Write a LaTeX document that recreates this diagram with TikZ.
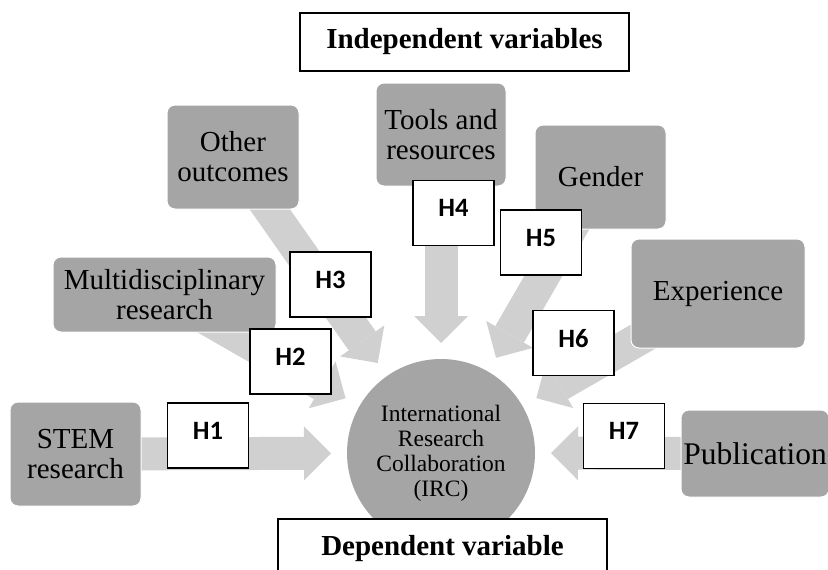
\documentclass[tikz,border=0pt]{standalone}
\usepackage{fontspec}
\setmainfont{Liberation Serif}
\newfontfamily\hfont{Carlito}
\usetikzlibrary{arrows.meta,backgrounds}
\definecolor{boxgray}{HTML}{A5A5A5}
\definecolor{arrgray}{HTML}{D0D0D0}
\begin{document}
\begin{tikzpicture}[x=1pt,y=-1pt,
  varbox/.style={rectangle, rounded corners=8pt, fill=boxgray, draw=white, line width=1pt,
    align=center, inner sep=2pt, font=\fontsize{29}{30}\selectfont},
  hbox/.style={rectangle, draw=black, line width=1.8pt, fill=white,
    minimum width=81pt, minimum height=65pt, inner sep=0pt, text depth=10pt,
    font=\hfont\bfseries\fontsize{26.5}{30}\selectfont},
  titlebox/.style={rectangle, draw=black, line width=1.5pt, fill=white, inner sep=0pt,
    font=\bfseries\fontsize{29}{32}\selectfont},
  flow/.style={arrgray, line width=33pt,
    -{Triangle[width=54pt,length=27pt,line width=0pt]}}]
\useasboundingbox (0,0) rectangle (828,570);
\clip (0,0) rectangle (828,570);

% central circle
\node[circle, fill=boxgray, minimum size=188pt, inner sep=0pt, outer sep=16pt,
  align=center, font=\fontsize{23.5}{25}\selectfont] (irc) at (441,453)
  {International\\Research\\Collaboration\\(IRC)};

% independent variables
\node[varbox, minimum width=131pt, minimum height=104pt] (stem)   at (75.5,454)  {STEM\\research};
\node[varbox, minimum width=223pt, minimum height=75pt]  (multi)  at (164.5,294.5) {Multidisciplinary\\research};
\node[varbox, minimum width=132pt, minimum height=104pt] (other)  at (233,157)   {Other\\outcomes};
\node[varbox, minimum width=130pt, minimum height=103pt] (tools)  at (441,134.5) {Tools and\\resources};
\node[varbox, minimum width=131pt, minimum height=104pt] (gender) at (600.5,177) {Gender};
\node[varbox, minimum width=174pt, minimum height=109pt] (exper)  at (718,293.5) {Experience};
\node[varbox, minimum width=148pt, minimum height=87pt, font=\fontsize{31.5}{32}\selectfont]
  (pub) at (755,453.5) {Publication};

% arrows (behind everything)
\begin{scope}[on background layer]
  \draw[flow] (stem.center)   -- (irc);
  \draw[flow] (multi.center)  -- (irc);
  \draw[flow] (other.center)  -- (irc);
  \draw[flow] (tools.center)  -- (irc);
  \draw[flow] (gender.center) -- (irc);
  \draw[flow] (exper.center)  -- (irc);
  \draw[flow] (pub.center)    -- (irc);
\end{scope}

% hypothesis labels
\node[hbox] (h1) at (208,435.5)   {H1};
\node[hbox] (h2) at (290.5,361.5) {H2};
\node[hbox] (h3) at (330.5,284.5) {H3};
\node[hbox] (h4) at (453.5,213)   {H4};
\node[hbox] (h5) at (541,242.5)   {H5};
\node[hbox] (h6) at (573.5,343)   {H6};
\node[hbox] (h7) at (624,436)     {H7};

% titles
\node[titlebox, minimum width=329pt, minimum height=58pt] (indep) at (464.5,42)
  {Independent variables};
\node[titlebox, minimum width=329pt, minimum height=59pt] (dep) at (442.5,548.5)
  {Dependent variable};
\end{tikzpicture}
\end{document}
